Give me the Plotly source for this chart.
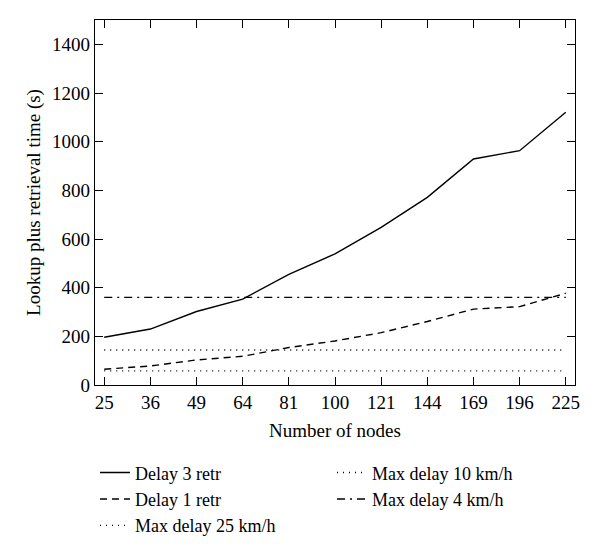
import plotly.graph_objects as go

nodes = ["25", "36", "49", "64", "81", "100", "121", "144", "169", "196", "225"]
delay_3_retr = [196, 230, 302, 353, 455, 539, 648, 771, 929, 963, 1121]
delay_1_retr = [65, 78, 103, 118, 154, 181, 215, 261, 312, 322, 377]
max_delay_25 = 58
max_delay_10 = 144
max_delay_4 = 360

FONT = "Liberation Serif"
FS = 19
fig = go.Figure()

def add(name, y, dash):
    fig.add_trace(go.Scatter(x=nodes, y=y, name=name, mode="lines",
                             line=dict(color="black", width=1.4, dash=dash)))

# order chosen so the horizontal legend wraps into two columns
add("Delay 3 retr", delay_3_retr, "solid")
add("Max delay 10 km/h", [max_delay_10] * len(nodes), "1px,5px")
add("Delay 1 retr", delay_1_retr, "7px,5px")
add("Max delay 4 km/h", [max_delay_4] * len(nodes), "8px,5px,2px,5px")
add("Max delay 25 km/h", [max_delay_25] * len(nodes), "1px,5px")

axis_common = dict(showline=True, linecolor="black", linewidth=1.4, mirror="ticks",
                   ticks="inside", ticklen=8, tickwidth=1.2, tickcolor="black",
                   showgrid=False, zeroline=False, automargin=False,
                   tickfont=dict(family=FONT, size=FS, color="black"))

fig.update_xaxes(type="category", range=[-0.2, 10.2], ticklabelstandoff=0,
                 title=dict(text="Number of nodes", font=dict(family=FONT, size=FS, color="black"), standoff=11),
                 **axis_common)
fig.update_yaxes(range=[0, 1500], tickvals=[0, 200, 400, 600, 800, 1000, 1200, 1400],
                 title=dict(text="Lookup plus retrieval time (s)", font=dict(family=FONT, size=FS, color="black"), standoff=6),
                 **axis_common)

fig.update_layout(
    width=600, height=552,
    margin=dict(l=87, r=33, t=12, b=175),
    plot_bgcolor="white", paper_bgcolor="white",
    font=dict(family=FONT, size=FS, color="black"),
    legend=dict(orientation="h", x=0.0, xanchor="left", y=-0.19, yanchor="top",
                entrywidth=192, entrywidthmode="pixels",
                font=dict(family=FONT, size=18, color="black"),
                tracegroupgap=0, itemwidth=30),
)

fig.write_html("out.html")
